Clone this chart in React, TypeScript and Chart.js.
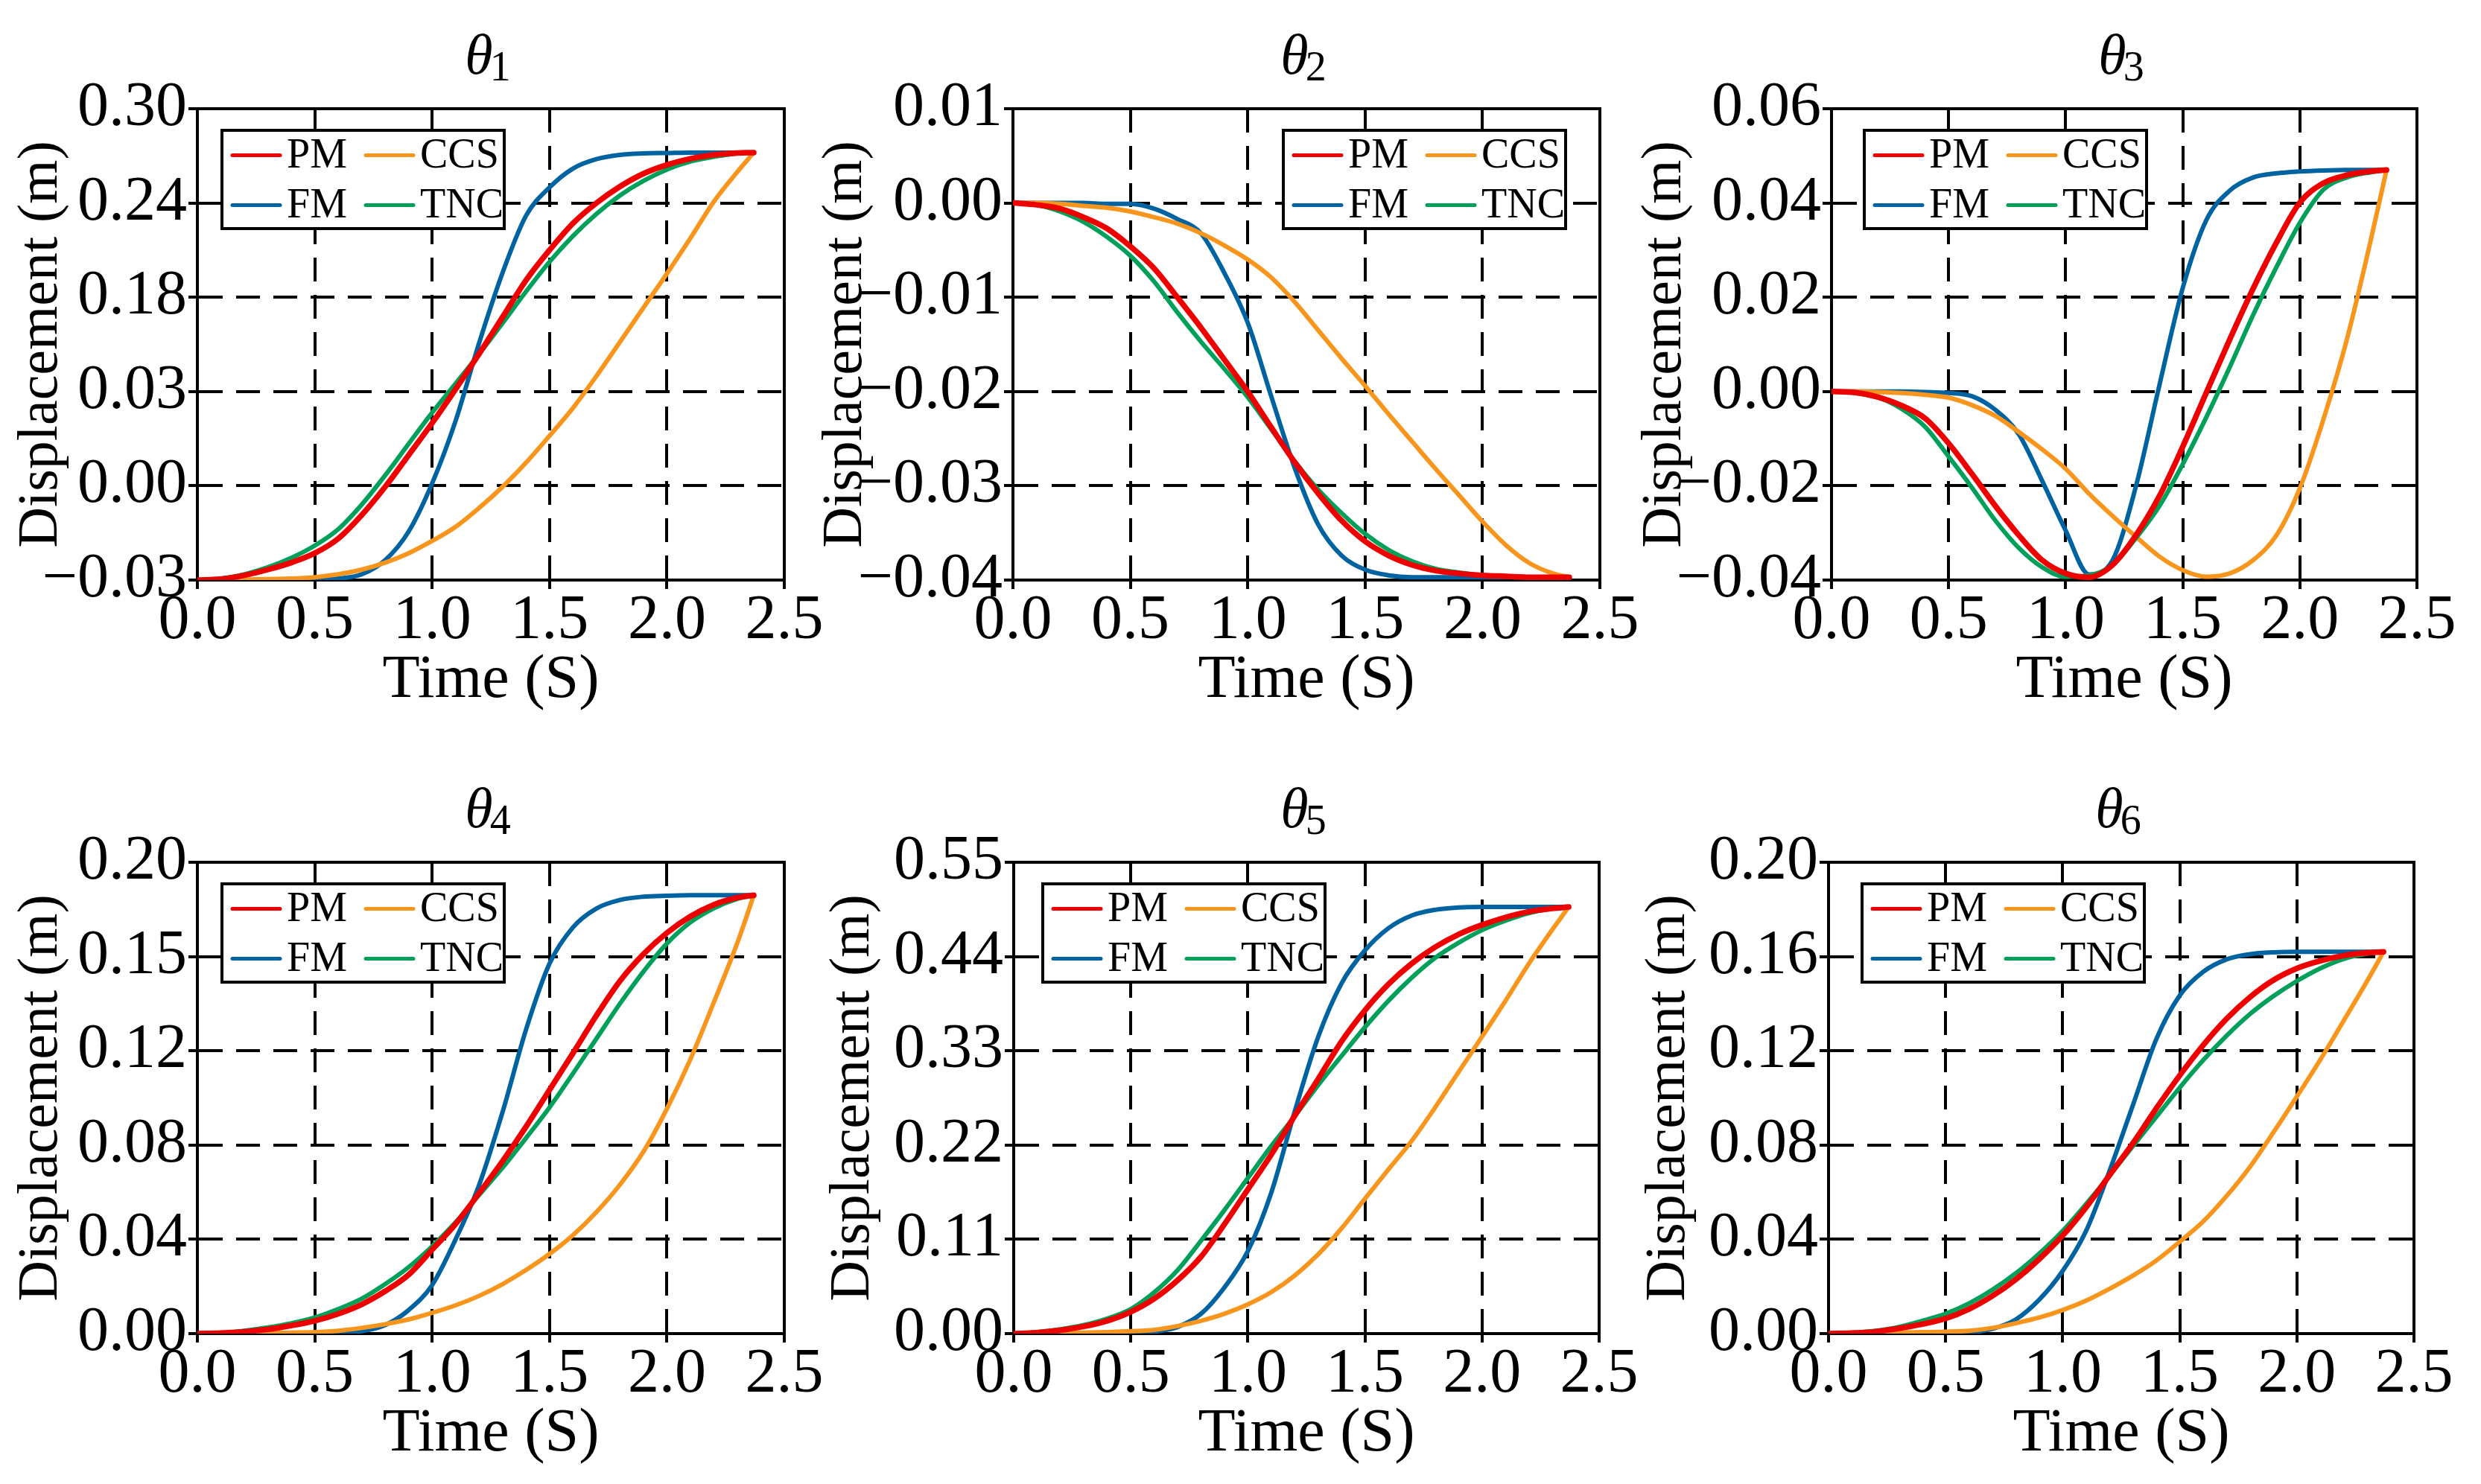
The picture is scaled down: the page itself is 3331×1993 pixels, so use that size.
import React, { useRef, useEffect } from "react";
import Chart from "chart.js/auto";

// time samples (s) shared by every curve
const TIME = [0, 0.1, 0.2, 0.3, 0.4, 0.5, 0.6, 0.7, 0.8, 0.9, 1.0, 1.1, 1.2, 1.3, 1.4, 1.5, 1.6, 1.7, 1.8, 1.9, 2.0, 2.1, 2.2, 2.3, 2.37];
const X_TICK_LABELS = ["0.0", "0.5", "1.0", "1.5", "2.0", "2.5"];
const LEGEND_ROWS = [["PM", "CCS"], ["FM", "TNC"]];

// y tick labels, bottom to top
const THETA1_TICKS = ["−0.03", "0.00", "0.03", "0.18", "0.24", "0.30"];
const THETA2_TICKS = ["−0.04", "−0.03", "−0.02", "−0.01", "0.00", "0.01"];
const THETA3_TICKS = ["−0.04", "−0.02", "0.00", "0.02", "0.04", "0.06"];
const THETA4_TICKS = ["0.00", "0.04", "0.08", "0.12", "0.15", "0.20"];
const THETA5_TICKS = ["0.00", "0.11", "0.22", "0.33", "0.44", "0.55"];
const THETA6_TICKS = ["0.00", "0.04", "0.08", "0.12", "0.16", "0.20"];

const THETA1_PM = [-0.03, -0.0293, -0.0267, -0.0227, -0.0178, -0.0112, -0.001, 0.0155, 0.0353, 0.0575, 0.0799, 0.1037, 0.1284, 0.1541, 0.1799, 0.201, 0.2198, 0.234, 0.2455, 0.2545, 0.2607, 0.265, 0.2677, 0.269, 0.2693];
const THETA1_TNC = [-0.03, -0.029, -0.026, -0.0211, -0.0145, -0.0059, 0.0056, 0.0228, 0.0433, 0.0654, 0.0872, 0.1076, 0.1282, 0.1499, 0.172, 0.1928, 0.2109, 0.2264, 0.2393, 0.2495, 0.2574, 0.263, 0.2663, 0.2687, 0.2693];
const THETA1_FM = [-0.03, -0.03, -0.03, -0.03, -0.0298, -0.0297, -0.029, -0.026, -0.0161, 0.004, 0.0377, 0.0815, 0.136, 0.1852, 0.2251, 0.2449, 0.2581, 0.2647, 0.2677, 0.2687, 0.269, 0.2693, 0.2693, 0.2693, 0.2693];
const THETA1_CCS = [-0.03, -0.03, -0.0297, -0.0293, -0.029, -0.028, -0.026, -0.0227, -0.0178, -0.0112, -0.0026, 0.0073, 0.0205, 0.0353, 0.0522, 0.071, 0.0905, 0.1129, 0.1367, 0.1607, 0.1845, 0.2093, 0.235, 0.2558, 0.2693];

const THETA2_PM = [0, -0.0002, -0.0006, -0.0015, -0.0027, -0.0046, -0.0069, -0.01, -0.0132, -0.0166, -0.02, -0.0238, -0.0275, -0.0308, -0.0337, -0.0359, -0.0374, -0.0384, -0.039, -0.0393, -0.0395, -0.0396, -0.0397, -0.0397, -0.0397];
const THETA2_TNC = [0, -0.0002, -0.0009, -0.002, -0.0036, -0.0056, -0.0083, -0.0116, -0.0147, -0.0176, -0.0206, -0.024, -0.0274, -0.0304, -0.0329, -0.0351, -0.0368, -0.038, -0.0388, -0.0392, -0.0395, -0.0396, -0.0397, -0.0397, -0.0397];
const THETA2_FM = [0, 0, 0, 0, -0.0001, -0.0001, -0.0006, -0.0017, -0.0032, -0.0074, -0.0127, -0.0205, -0.0281, -0.0341, -0.0374, -0.0389, -0.0395, -0.0397, -0.0397, -0.0397, -0.0397, -0.0397, -0.0397, -0.0397, -0.0397];
const THETA2_CCS = [0, 0, -0.0001, -0.0003, -0.0005, -0.0009, -0.0015, -0.0022, -0.0032, -0.0045, -0.006, -0.0079, -0.0105, -0.0135, -0.0165, -0.0194, -0.0224, -0.0253, -0.0282, -0.031, -0.0338, -0.0363, -0.0382, -0.0393, -0.0397];

const THETA3_PM = [0, -0.0002, -0.0012, -0.003, -0.0057, -0.011, -0.0175, -0.0243, -0.0305, -0.0358, -0.0386, -0.0394, -0.0368, -0.0305, -0.0222, -0.0117, -0.0003, 0.011, 0.0218, 0.0316, 0.0401, 0.0442, 0.0459, 0.0467, 0.047];
const THETA3_TNC = [0, -0.0003, -0.0013, -0.0037, -0.0075, -0.0138, -0.0204, -0.0274, -0.0332, -0.0373, -0.0393, -0.039, -0.0368, -0.0311, -0.0243, -0.0154, -0.0055, 0.0051, 0.0162, 0.0264, 0.0358, 0.0428, 0.0454, 0.0465, 0.047];
const THETA3_FM = [0, 0, 0, 0, -0.0001, -0.0003, -0.001, -0.0039, -0.0091, -0.019, -0.0295, -0.0388, -0.0358, -0.0201, 0.0013, 0.022, 0.0363, 0.0426, 0.0454, 0.0463, 0.0467, 0.0469, 0.047, 0.047, 0.047];
const THETA3_CCS = [0, 0, -0.0001, -0.0003, -0.0007, -0.0013, -0.0029, -0.0052, -0.0086, -0.0123, -0.0164, -0.0217, -0.0264, -0.0308, -0.035, -0.0379, -0.0393, -0.0386, -0.0358, -0.0305, -0.0205, -0.006, 0.0109, 0.0315, 0.047];

const THETA4_PM = [0, 0.0002, 0.0008, 0.0018, 0.0034, 0.0054, 0.0084, 0.0124, 0.018, 0.025, 0.0356, 0.0465, 0.0596, 0.0732, 0.0878, 0.1034, 0.119, 0.135, 0.1496, 0.161, 0.17, 0.177, 0.182, 0.185, 0.186];
const THETA4_TNC = [0, 0.0002, 0.0012, 0.0026, 0.0044, 0.0068, 0.0104, 0.0148, 0.021, 0.0282, 0.037, 0.0472, 0.0588, 0.0704, 0.083, 0.096, 0.1104, 0.1252, 0.14, 0.1536, 0.1655, 0.1745, 0.1805, 0.1845, 0.186];
const THETA4_FM = [0, 0, 0, 0, 0, 0, 0.0004, 0.001, 0.0036, 0.01, 0.0206, 0.04, 0.063, 0.094, 0.129, 0.157, 0.1724, 0.1804, 0.184, 0.1854, 0.1858, 0.186, 0.186, 0.186, 0.186];
const THETA4_CCS = [0, 0, 0.0001, 0.0002, 0.0004, 0.0006, 0.0012, 0.0024, 0.004, 0.006, 0.0088, 0.012, 0.016, 0.021, 0.027, 0.0338, 0.0418, 0.0516, 0.0632, 0.0772, 0.0954, 0.1164, 0.1406, 0.1658, 0.186];

const THETA5_PM = [0, 0.0011, 0.0039, 0.0083, 0.0149, 0.0253, 0.0407, 0.0622, 0.0897, 0.1276, 0.1683, 0.209, 0.2541, 0.297, 0.341, 0.3773, 0.4076, 0.4318, 0.451, 0.4659, 0.4769, 0.4857, 0.4923, 0.4961, 0.4978];
const THETA5_TNC = [0, 0.0017, 0.005, 0.01, 0.0176, 0.0286, 0.0481, 0.0741, 0.1084, 0.1441, 0.1815, 0.2189, 0.2536, 0.2899, 0.324, 0.3575, 0.3883, 0.4153, 0.4384, 0.456, 0.4708, 0.4818, 0.4906, 0.4961, 0.4978];
const THETA5_FM = [0, 0, 0, 0, 0, 0.0006, 0.0022, 0.0077, 0.0231, 0.0539, 0.0963, 0.1645, 0.2591, 0.346, 0.4087, 0.4472, 0.473, 0.4879, 0.4945, 0.4972, 0.4978, 0.4978, 0.4978, 0.4978, 0.4978];
const THETA5_CCS = [0, 0, 0.0006, 0.0011, 0.0017, 0.0028, 0.0044, 0.0088, 0.0149, 0.0231, 0.0341, 0.0484, 0.0677, 0.0924, 0.1227, 0.1573, 0.1914, 0.225, 0.264, 0.3053, 0.3465, 0.3883, 0.4318, 0.4714, 0.4978];

const THETA6_PM = [0, 0.0002, 0.0008, 0.0022, 0.004, 0.0064, 0.0104, 0.016, 0.023, 0.0316, 0.0416, 0.0536, 0.0672, 0.0808, 0.0956, 0.1096, 0.1224, 0.1336, 0.1428, 0.15, 0.155, 0.1582, 0.1604, 0.1616, 0.162];
const THETA6_TNC = [0, 0.0004, 0.0012, 0.0028, 0.0054, 0.0084, 0.0128, 0.0186, 0.0256, 0.034, 0.0436, 0.055, 0.067, 0.0796, 0.092, 0.1044, 0.116, 0.1264, 0.1356, 0.1432, 0.1496, 0.155, 0.159, 0.1612, 0.162];
const THETA6_FM = [0, 0, 0, 0, 0, 0.0001, 0.0004, 0.002, 0.006, 0.0144, 0.0266, 0.0436, 0.069, 0.097, 0.125, 0.1435, 0.1535, 0.1588, 0.161, 0.1618, 0.162, 0.162, 0.162, 0.162, 0.162];
const THETA6_CCS = [0, 0, 0.0002, 0.0004, 0.0006, 0.0008, 0.0012, 0.0024, 0.0044, 0.0068, 0.01, 0.014, 0.019, 0.0246, 0.031, 0.039, 0.0476, 0.0584, 0.0708, 0.0854, 0.1006, 0.1162, 0.1328, 0.1496, 0.162];

const FONT = "'Liberation Serif', 'Times New Roman', serif";
const COLORS: Record<string, string> = { PM: "#ee0000", FM: "#0063a1", CCS: "#f8951d", TNC: "#00a05a" };
const LINE_WIDTHS: Record<string, number> = { PM: 7.5, FM: 6, CCS: 6, TNC: 6 };
// drawing order: first dataset ends up on top
const DRAW_ORDER = ["PM", "TNC", "CCS", "FM"];

const PAD_TOP = 146;
const PLOT_H = 633;
const X_AXIS_H = 176;
const PAD_RIGHT = 80;
const RULE_W = 4;

interface Panel {
    sub: string;
    yMin: number;
    yMax: number;
    yLabels: string[];
    series: Record<string, number[]>;
    left: number;
    top: number;
    axisW: number;
    plotW: number;
    legendSide: "left" | "right";
    legendGap: number;
}

const PANELS: Panel[] = [
    {
        sub: "1", yMin: -0.03, yMax: 0.3, yLabels: THETA1_TICKS,
        series: { PM: THETA1_PM, FM: THETA1_FM, CCS: THETA1_CCS, TNC: THETA1_TNC },
        left: 0, top: 0, axisW: 265, plotW: 788, legendSide: "left", legendGap: 33,
    },
    {
        sub: "2", yMin: -0.04, yMax: 0.01, yLabels: THETA2_TICKS,
        series: { PM: THETA2_PM, FM: THETA2_FM, CCS: THETA2_CCS, TNC: THETA2_TNC },
        left: 1080, top: 0, axisW: 280, plotW: 788, legendSide: "right", legendGap: 46,
    },
    {
        sub: "3", yMin: -0.04, yMax: 0.06, yLabels: THETA3_TICKS,
        series: { PM: THETA3_PM, FM: THETA3_FM, CCS: THETA3_CCS, TNC: THETA3_TNC },
        left: 2180, top: 0, axisW: 279, plotW: 786, legendSide: "left", legendGap: 44,
    },
    {
        sub: "4", yMin: 0, yMax: 0.2, yLabels: THETA4_TICKS,
        series: { PM: THETA4_PM, FM: THETA4_FM, CCS: THETA4_CCS, TNC: THETA4_TNC },
        left: 0, top: 1012, axisW: 265, plotW: 788, legendSide: "left", legendGap: 33,
    },
    {
        sub: "5", yMin: 0, yMax: 0.55, yLabels: THETA5_TICKS,
        series: { PM: THETA5_PM, FM: THETA5_FM, CCS: THETA5_CCS, TNC: THETA5_TNC },
        left: 1090, top: 1012, axisW: 271, plotW: 786, legendSide: "left", legendGap: 39,
    },
    {
        sub: "6", yMin: 0, yMax: 0.2, yLabels: THETA6_TICKS,
        series: { PM: THETA6_PM, FM: THETA6_FM, CCS: THETA6_CCS, TNC: THETA6_TNC },
        left: 2185, top: 1012, axisW: 270, plotW: 786, legendSide: "left", legendGap: 45,
    },
];

// top and right edges of the box frame
const framePlugin = {
    id: "frame",
    beforeDatasetsDraw(chart: any) {
        const { ctx, chartArea: a } = chart;
        ctx.save();
        ctx.strokeStyle = "#000";
        ctx.lineWidth = RULE_W;
        ctx.beginPath();
        ctx.moveTo(a.left, a.top);
        ctx.lineTo(a.right, a.top);
        ctx.lineTo(a.right, a.bottom);
        ctx.stroke();
        ctx.restore();
    },
};

const makeLegendPlugin = (p: Panel) => ({
    id: "boxLegend",
    afterDatasetsDraw(chart: any) {
        const { ctx, chartArea: a } = chart;
        const w = 379;
        const h = 132;
        const x0 = p.legendSide === "left" ? a.left + p.legendGap : a.right - p.legendGap - w;
        const y0 = a.top + 29;
        ctx.save();
        ctx.fillStyle = "#fff";
        ctx.fillRect(x0, y0, w, h);
        ctx.strokeStyle = "#000";
        ctx.lineWidth = RULE_W;
        ctx.strokeRect(x0, y0, w, h);
        ctx.font = `56px ${FONT}`;
        ctx.textBaseline = "middle";
        ctx.textAlign = "left";
        LEGEND_ROWS.forEach((row, r) => {
            row.forEach((label, c) => {
                const ds = chart.data.datasets.find((d: any) => d.label === label);
                const cy = y0 + 33.5 + r * 67;
                const lx = x0 + 14 + c * 179;
                ctx.strokeStyle = ds.borderColor;
                ctx.lineWidth = 5;
                ctx.lineCap = "round";
                ctx.beginPath();
                ctx.moveTo(lx, cy);
                ctx.lineTo(lx + 64, cy);
                ctx.stroke();
                ctx.fillStyle = "#000";
                ctx.fillText(label, lx + 73, cy + 2);
            });
        });
        ctx.restore();
    },
});

const makeTitlePlugin = (p: Panel) => ({
    id: "thetaTitle",
    afterDraw(chart: any) {
        const { ctx, chartArea: a } = chart;
        const cx = (a.left + a.right) / 2;
        const base = a.top - 47;
        ctx.save();
        ctx.fillStyle = "#000";
        ctx.textAlign = "left";
        ctx.textBaseline = "alphabetic";
        ctx.font = `italic 76px ${FONT}`;
        const wT = ctx.measureText("θ").width;
        ctx.font = `56px ${FONT}`;
        const wS = ctx.measureText(p.sub).width;
        const x0 = cx - (wT + wS - 4) / 2 - 4;
        ctx.font = `italic 76px ${FONT}`;
        ctx.fillText("θ", x0, base);
        ctx.font = `56px ${FONT}`;
        ctx.fillText(p.sub, x0 + wT - 4, base + 9);
        ctx.restore();
    },
});

const gridColor = (c: any) => (c.index > 0 && c.index < 5 ? "#000" : "rgba(0,0,0,0)");

const PanelChart = ({ p }: { p: Panel }) => {
    const chartRef = useRef<HTMLCanvasElement>(null);

    useEffect(() => {
        const ctx = chartRef.current?.getContext("2d");
        if (!ctx) return;

        const datasets = DRAW_ORDER.map((name) => ({
            label: name,
            data: TIME.map((t, i) => ({ x: t, y: p.series[name][i] })),
            borderColor: COLORS[name],
            backgroundColor: COLORS[name],
            borderWidth: LINE_WIDTHS[name],
            borderCapStyle: "round" as const,
            borderJoinStyle: "round" as const,
            pointRadius: 0,
            cubicInterpolationMode: "monotone" as const,
            fill: false,
        }));

        const chart = new Chart(ctx, {
            type: "line",
            data: { datasets },
            options: {
                animation: false,
                responsive: true,
                maintainAspectRatio: false,
                events: [],
                layout: { padding: { left: 0, top: PAD_TOP, right: PAD_RIGHT, bottom: 0 } },
                plugins: {
                    legend: { display: false },
                    tooltip: { enabled: false },
                },
                scales: {
                    x: {
                        type: "linear",
                        min: 0,
                        max: 2.5,
                        afterFit: (s: any) => {
                            s.height = X_AXIS_H;
                        },
                        ticks: {
                            stepSize: 0.5,
                            autoSkip: false,
                            maxRotation: 0,
                            minRotation: 0,
                            padding: 2,
                            color: "#000",
                            font: { family: FONT, size: 84, lineHeight: 1 },
                            callback: (_v: any, i: number) => X_TICK_LABELS[i],
                        },
                        grid: {
                            color: gridColor,
                            lineWidth: RULE_W,
                            drawTicks: true,
                            tickLength: 12,
                            tickWidth: RULE_W,
                            tickColor: "#000",
                        },
                        border: { display: true, color: "#000", width: RULE_W, dash: [32, 18] },
                        title: {
                            display: true,
                            text: "Time (S)",
                            color: "#000",
                            padding: 0,
                            font: { family: FONT, size: 82, lineHeight: 1 },
                        },
                    },
                    y: {
                        type: "linear",
                        min: p.yMin,
                        max: p.yMax,
                        afterFit: (s: any) => {
                            s.width = p.axisW;
                        },
                        afterBuildTicks: (s: any) => {
                            const n = p.yLabels.length - 1;
                            s.ticks = p.yLabels.map((_, i) => ({ value: p.yMin + ((p.yMax - p.yMin) * i) / n }));
                        },
                        ticks: {
                            autoSkip: false,
                            padding: 2,
                            color: "#000",
                            font: { family: FONT, size: 84, lineHeight: 1 },
                            callback: (_v: any, i: number) => p.yLabels[i],
                        },
                        grid: {
                            color: gridColor,
                            lineWidth: RULE_W,
                            drawTicks: true,
                            tickLength: 12,
                            tickWidth: RULE_W,
                            tickColor: "#000",
                        },
                        border: { display: true, color: "#000", width: RULE_W, dash: [32, 18] },
                        title: {
                            display: true,
                            text: "Displacement (m)",
                            color: "#000",
                            padding: { top: 18, bottom: 0 },
                            font: { family: FONT, size: 76, lineHeight: 1 },
                        },
                    },
                },
            },
            plugins: [framePlugin, makeLegendPlugin(p), makeTitlePlugin(p)],
        });

        return () => {
            chart.destroy();
        };
    }, [p]);

    const width = p.axisW + p.plotW + PAD_RIGHT;
    const height = PAD_TOP + PLOT_H + X_AXIS_H;

    return (
        <div style={{ position: "absolute", left: p.left, top: p.top, width, height }}>
            <canvas ref={chartRef}></canvas>
        </div>
    );
};

const App = () => {
    return (
        <div
            style={{
                position: "fixed",
                left: 0,
                top: 0,
                width: 3331,
                height: 1993,
                background: "#fff",
                overflow: "hidden",
            }}
        >
            {PANELS.map((p) => (
                <PanelChart key={p.sub} p={p} />
            ))}
        </div>
    );
};

export default App;
